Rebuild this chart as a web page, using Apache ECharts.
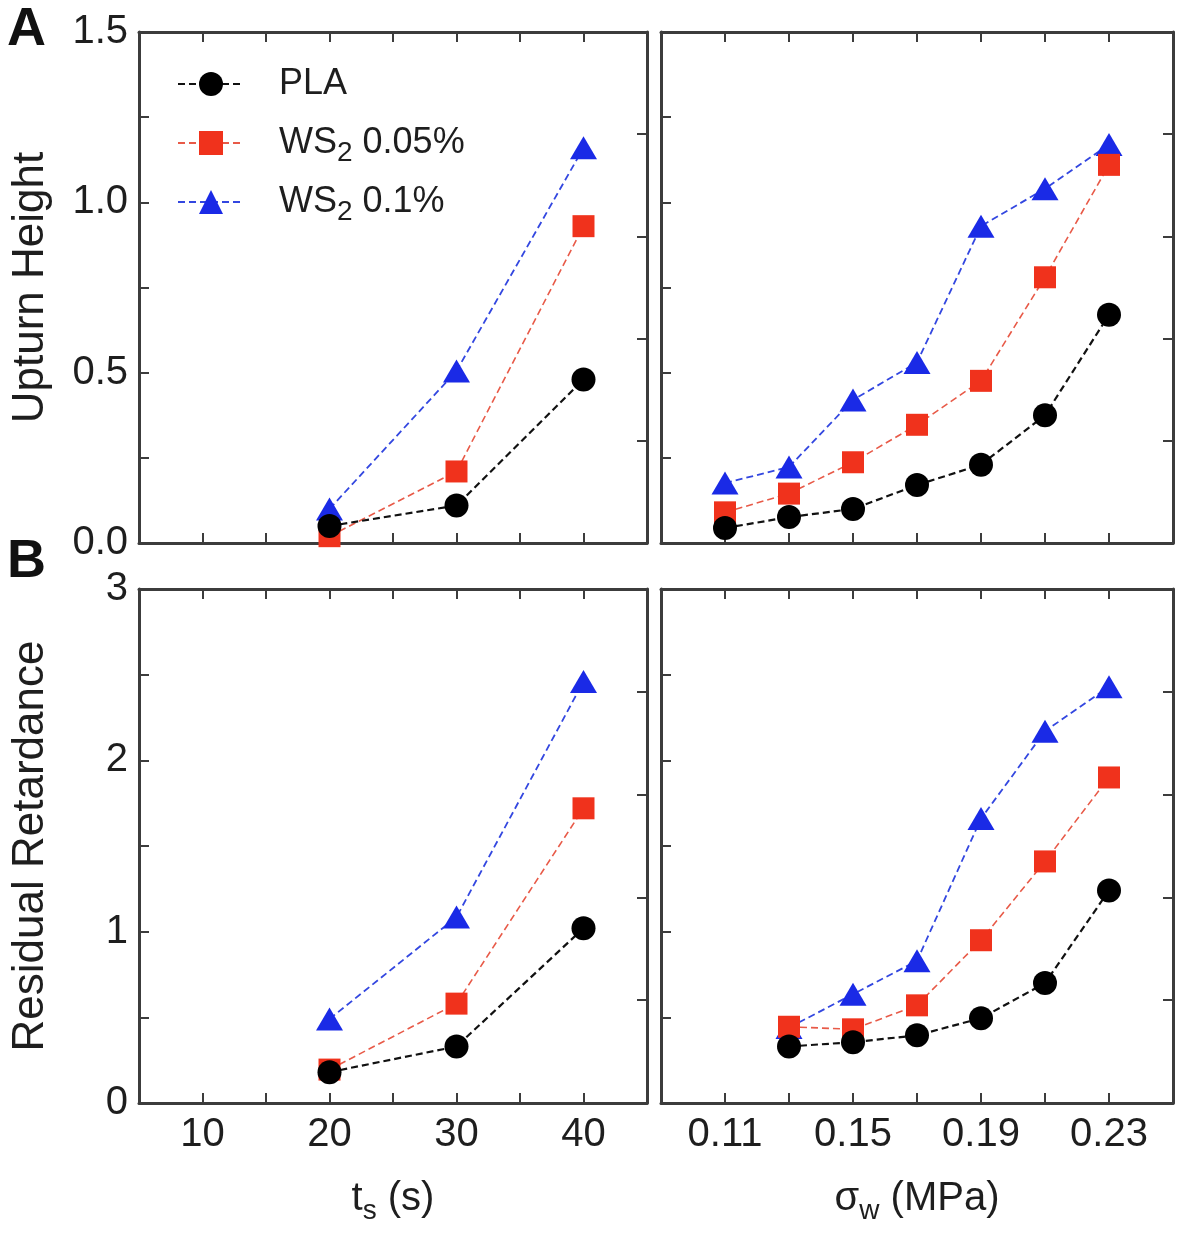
<!DOCTYPE html>
<html>
<head>
<meta charset="utf-8">
<script src="https://cdn.jsdelivr.net/npm/echarts@6/dist/echarts.min.js"></script>
<style>
html,body{margin:0;padding:0;background:#fff;}
#chart{width:1200px;height:1234px;}
</style>
</head>
<body>
<div id="chart"></div>
<script>
// ---------- data ----------
var seriesNames = ['PLA', 'WS2 0.05%', 'WS2 0.1%'];

var tsValues = [20, 30, 40];
var upturnTsPLA = [0.05, 0.11, 0.48];
var upturnTsWS005 = [0.02, 0.21, 0.93];
var upturnTsWS01 = [0.10, 0.505, 1.16];

var sigmaUpturn = [0.11, 0.13, 0.15, 0.17, 0.19, 0.21, 0.23];
var upturnSigPLA = [0.044, 0.076, 0.10, 0.17, 0.23, 0.375, 0.67];
var upturnSigWS005 = [0.09, 0.145, 0.237, 0.347, 0.476, 0.78, 1.11];
var upturnSigWS01 = [0.176, 0.223, 0.42, 0.53, 0.93, 1.04, 1.17];

var retTsPLA = [0.18, 0.33, 1.02];
var retTsWS005 = [0.195, 0.58, 1.72];
var retTsWS01 = [0.49, 1.085, 2.46];

var sigmaRet = [0.13, 0.15, 0.17, 0.19, 0.21, 0.23];
var retSigPLA = [0.33, 0.355, 0.395, 0.495, 0.70, 1.24];
var retSigWS005 = [0.445, 0.43, 0.57, 0.95, 1.41, 1.90];
var retSigWS01 = [0.44, 0.635, 0.83, 1.66, 2.17, 2.43];

var tsTickLabels = [10, 20, 30, 40];
var sigmaTickLabels = [0.11, 0.15, 0.19, 0.23];
var upturnTickLabels = [0, 0.5, 1.0, 1.5];
var retTickLabels = [0, 1, 2, 3];

// ---------- styles ----------
var FONT = '"Liberation Sans", Arial, Helvetica, sans-serif';
var AXC = '#3c3c3c';
var TXT = '#1e1e1e';

var grids = [
  {left: 139, top: 32, width: 508, height: 511},
  {left: 661, top: 32, width: 512, height: 511},
  {left: 139, top: 589, width: 508, height: 514},
  {left: 661, top: 589, width: 512, height: 514}
];

function richSet(big, small, pad) {
  return {
    t: {fontSize: big, lineHeight: big, color: TXT, fontFamily: FONT},
    s: {fontSize: small, lineHeight: small, padding: [pad, 0, 0, 0], color: TXT, fontFamily: FONT}
  };
}

function inList(list, v) {
  for (var i = 0; i < list.length; i++) if (Math.abs(list[i] - v) < 1e-6) return true;
  return false;
}

var tickBase = {show: true, inside: true, length: 10, lineStyle: {color: AXC, width: 2}};
var lineBase = {show: true, onZero: false, lineStyle: {color: AXC, width: 3}};

var xAxes = [], yAxes = [];
for (var g = 0; g < 4; g++) {
  var isTs = (g % 2 === 0);
  var isBottom = g >= 2;
  var xBase = isTs ? {min: 5, max: 45, interval: 5} : {min: 0.09, max: 0.25, interval: 0.02};
  var xb = Object.assign({
    type: 'value', gridIndex: g, position: 'bottom',
    axisLine: lineBase, axisTick: tickBase, splitLine: {show: false},
    axisLabel: {
      show: isBottom, margin: 12, fontSize: 40, color: TXT, fontFamily: FONT,
      formatter: isTs ? function (v) { return inList(tsTickLabels, v) ? String(v) : ''; }
                      : function (v) { return inList(sigmaTickLabels, v) ? v.toFixed(2) : ''; }
    }
  }, xBase);
  if (isBottom) {
    xb.name = isTs ? '{t|t}{s|s}{t| (s)}' : '{t|σ}{s|w}{t| (MPa)}';
    xb.nameLocation = 'middle';
    xb.nameGap = 76;
    xb.nameTextStyle = {rich: richSet(40, 28, 24)};
  }
  xAxes.push(xb);
  xAxes.push(Object.assign({
    type: 'value', gridIndex: g, position: 'top',
    axisLine: lineBase, axisTick: tickBase, splitLine: {show: false},
    axisLabel: {show: false}
  }, xBase));

  var isUp = g < 2;
  var isLeft = (g % 2 === 0);
  var ymax = isUp ? 1.5 : 3;
  var yl = {
    type: 'value', gridIndex: g, position: 'left', min: 0, max: ymax,
    interval: isUp ? 0.25 : 0.5,
    axisLine: lineBase, axisTick: tickBase, splitLine: {show: false},
    axisLabel: {
      show: isLeft, margin: 11, fontSize: 40, color: TXT, fontFamily: FONT,
      formatter: isUp ? function (v) { return inList(upturnTickLabels, v) ? v.toFixed(1) : ''; }
                      : function (v) { return inList(retTickLabels, v) ? String(v) : ''; }
    }
  };
  if (isLeft) {
    yl.name = isUp ? 'Upturn Height' : 'Residual Retardance';
    yl.nameLocation = 'middle';
    yl.nameGap = 86;
    yl.nameTextStyle = {fontSize: 44, color: TXT, fontFamily: FONT};
  }
  yAxes.push(yl);
  yAxes.push({
    type: 'value', gridIndex: g, position: 'right', min: 0, max: ymax,
    interval: ymax / 5,
    axisLine: lineBase, axisTick: tickBase, splitLine: {show: false},
    axisLabel: {show: false}
  });
}

var styles = {
  'PLA': {symbol: 'circle', size: 24, color: '#000000', line: '#111111', width: 2.2, z: 5},
  'WS2 0.05%': {symbol: 'rect', size: 22, color: '#f0321c', line: '#e85a48', width: 1.6, z: 4},
  'WS2 0.1%': {symbol: 'triangle', size: [27, 23], color: '#1a2ae6', line: '#3347e0', width: 1.8, z: 3}
};

function mk(name, xs, ys, g) {
  var st = styles[name];
  return {
    type: 'line', name: name, xAxisIndex: 2 * g, yAxisIndex: 2 * g,
    data: xs.map(function (x, i) { return [x, ys[i]]; }),
    symbol: st.symbol, symbolSize: st.size, showAllSymbol: true,
    itemStyle: {color: st.color},
    lineStyle: {type: [7, 4], width: st.width, color: st.line},
    z: st.z, animation: false
  };
}

var series = [
  mk('WS2 0.1%', tsValues, upturnTsWS01, 0),
  mk('WS2 0.05%', tsValues, upturnTsWS005, 0),
  mk('PLA', tsValues, upturnTsPLA, 0),
  mk('WS2 0.1%', sigmaUpturn, upturnSigWS01, 1),
  mk('WS2 0.05%', sigmaUpturn, upturnSigWS005, 1),
  mk('PLA', sigmaUpturn, upturnSigPLA, 1),
  mk('WS2 0.1%', tsValues, retTsWS01, 2),
  mk('WS2 0.05%', tsValues, retTsWS005, 2),
  mk('PLA', tsValues, retTsPLA, 2),
  mk('WS2 0.1%', sigmaRet, retSigWS01, 3),
  mk('WS2 0.05%', sigmaRet, retSigWS005, 3),
  mk('PLA', sigmaRet, retSigPLA, 3)
];

var legendRich = richSet(36, 28, 20);

var chart = echarts.init(document.getElementById('chart'), null, {renderer: 'canvas'});
chart.setOption({
  animation: false,
  backgroundColor: '#ffffff',
  grid: grids,
  xAxis: xAxes,
  yAxis: yAxes,
  legend: {
    data: seriesNames,
    orient: 'vertical', left: 177, top: 60, padding: 0,
    itemWidth: 66, itemHeight: 30, itemGap: 11,
    formatter: function (name) {
      if (name === 'PLA') return '{t|PLA}{s| }';
      return '{t|WS}{s|2}{t| ' + name.split(' ')[1] + '}';
    },
    textStyle: {fontSize: 36, color: TXT, fontFamily: FONT, padding: [0, 0, 0, 30], rich: legendRich}
  },
  graphic: [
    {type: 'text', left: 7, top: 3, style: {text: 'A', font: 'bold 54px ' + FONT, fill: '#111'}},
    {type: 'text', left: 7, top: 535, style: {text: 'B', font: 'bold 54px ' + FONT, fill: '#111'}}
  ],
  series: series
});
</script>
</body>
</html>
